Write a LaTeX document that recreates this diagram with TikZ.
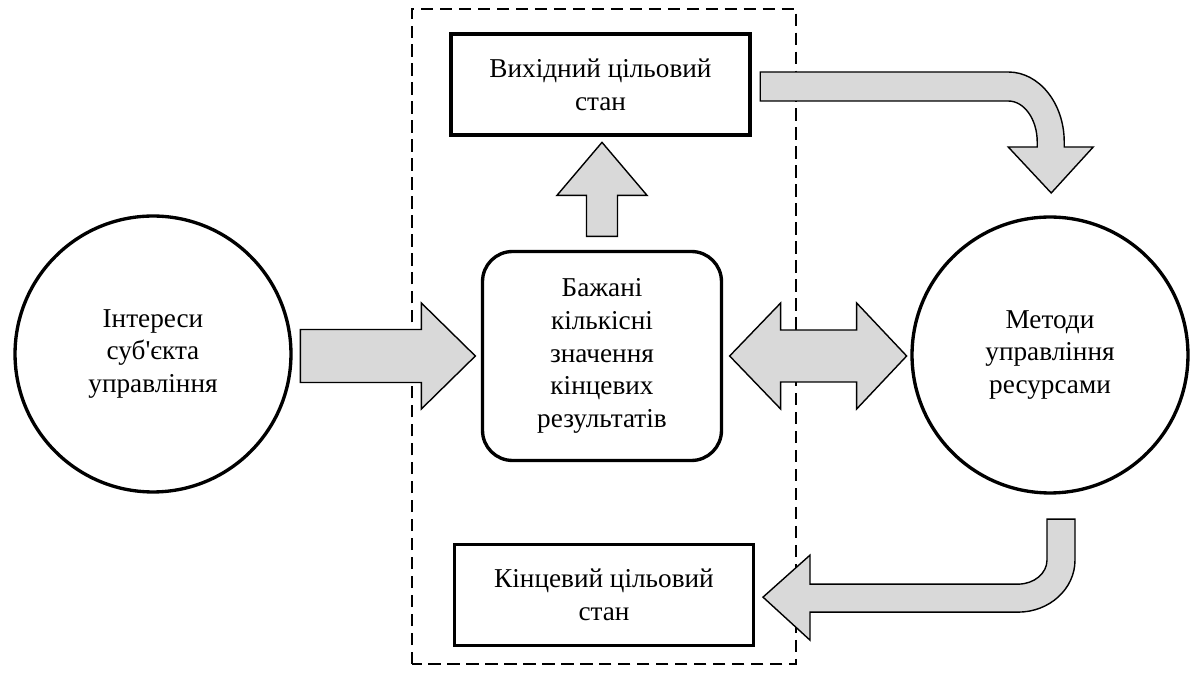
\documentclass[tikz,border=0pt]{standalone}
\usepackage{fontspec}
\setmainfont{Liberation Serif}
\usetikzlibrary{calc}

\begin{document}
\begin{tikzpicture}[x=0.02cm,y=0.02cm,font=\fontsize{15.5}{18.7}\selectfont]
\tikzset{statebox/.style={draw,line width=2pt,fill=white,align=center,minimum width=5.98cm,minimum height=2.02cm}}
\tikzset{goalbox/.style={draw,line width=1.9pt,fill=white,align=center,rounded corners=0.6cm,minimum width=4.78cm,minimum height=4.18cm}}
\tikzset{bigcircle/.style={circle,draw,line width=1.9pt,fill=white,align=center,minimum size=5.52cm}}
\tikzset{blockarr/.style={draw,line width=0.8pt,fill=gray!30,line join=miter}}
\tikzset{frame/.style={draw,line width=1.4pt,dash pattern=on 7pt off 3.8pt}}
  \useasboundingbox (0,0) rectangle (1191,673);
  \draw[frame] (412,9) rectangle (796,664);

  \node[goalbox]   (goals)      at (602,317)   {Бажані\\кількісні\\значення\\кінцевих\\результатів};
  \node[statebox]  (startstate) at (600.5,588.5) {Вихідний цільовий\\стан};
  \node[statebox]  (endstate)   at (604,78)    {Кінцевий цільовий\\стан};
  \node[bigcircle] (interests)  at (153,319)   {Інтереси\\суб\textquotesingle єкта\\управління};
  \node[bigcircle] (methods)    at (1050,318)  {Методи\\управління\\ресурсами};

  \draw[blockarr] ($(goals.west)+(-5.5,0)$) -- ++(-54,53) -- ++(0,-26.5) -- ++(-121,0)
      -- ++(0,-53) -- ++(121,0) -- ++(0,-26.5) -- cycle;
  \draw[blockarr] ($(goals.east)+(6.5,0)$) -- ++(51,53) -- ++(0,-27) -- ++(76,0) -- ++(0,27)
      -- ++(50,-53) -- ++(-50,-53) -- ++(0,27) -- ++(-76,0) -- ++(0,-27) -- cycle;
  \draw[blockarr] ($(goals.north)+(0,13.5)$) -- ++(15.5,0) -- ++(0,41) -- ++(29.5,0)
      -- ++(-45,53) -- ++(-45,-53) -- ++(29.5,0) -- ++(0,-41) -- cycle;
  \draw[blockarr] ($(startstate.east)+(8.5,12.5)$) -- ++(248,0)
      arc[start angle=90,end angle=0,x radius=56,y radius=70] -- ++(0,-5) -- ++(29,0)
      -- ++(-42,-46) -- ++(-43,46) -- ++(29,0) -- ++(0,5)
      arc[start angle=0,end angle=90,x radius=29,y radius=41] -- ++(-248,0) -- cycle;
  \draw[blockarr] ($(methods.south)+(-3,-24.5)$) -- ++(28,0) -- ++(0,-41)
      arc[start angle=0,end angle=-90,x radius=57,y radius=52] -- ++(-208,0) -- ++(0,-28)
      -- ++(-47,43) -- ++(47,42) -- ++(0,-29) -- ++(208,0)
      arc[start angle=-90,end angle=0,x radius=29,y radius=24] -- cycle;
\end{tikzpicture}
\end{document}
